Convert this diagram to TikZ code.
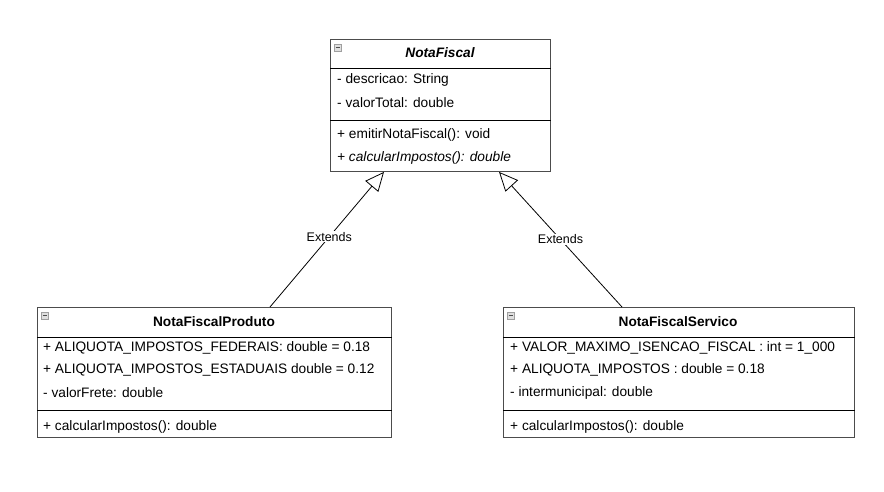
\documentclass[tikz,border=0pt]{standalone}
\usepackage{fontspec}
\setmainfont{Liberation Sans}
\usetikzlibrary{arrows.meta,calc}
\begin{document}
\begin{tikzpicture}[x=1pt,y=1pt,
  classbox/.style={draw=black!70, line width=0.9pt, rectangle, inner sep=0, anchor=north west},
  divider/.style={draw=black, line width=0.8pt},
  member/.style={anchor=west, inner sep=0, font=\fontsize{13.7}{16}\selectfont},
  title/.style={inner sep=0, font=\fontsize{13.7}{16}\selectfont\bfseries},
  extends/.style={draw=black, line width=0.8pt, -{Triangle[open,length=19pt,width=17pt]}},
  elabel/.style={fill=white, inner sep=1pt, font=\fontsize{12.5}{15}\selectfont},
  collapse/.pic={
    \draw[fill=gray!25, draw=gray!75, line width=0.6pt] (0,0) rectangle (7,-7);
    \draw[gray!60!black, line width=0.8pt] (1.5,-3.5) -- (5.5,-3.5);
  }]
\useasboundingbox (0,0) rectangle (884,491);
\fill[white] (0,0) rectangle (884,491);

% NotaFiscal
\node[classbox, minimum width=220pt, minimum height=132pt] (nf) at (330,452) {};
\pic at ($(nf.north west)+(4,-5)$) {collapse};
\node[title, font=\fontsize{13.7}{16}\selectfont\bfseries\itshape] (nft) at (440,438) {NotaFiscal};
\draw[divider] ($(nf.north west)+(0,-29)$) coordinate (nfh1) -- (nfh1 -| nf.east);
\draw[divider] ($(nf.north west)+(0,-81)$) coordinate (nfh2) -- (nfh2 -| nf.east);
\node[member] (nf1) at (337,411) {- descricao: String};
\node[member] (nf2) at (337,388) {- valorTotal: double};
\node[member] (nf3) at (337,356) {+ emitirNotaFiscal(): void};
\node[member, font=\fontsize{13.7}{16}\selectfont\itshape] (nf4) at (337,333) {+ calcularImpostos(): double};

% NotaFiscalProduto
\node[classbox, minimum width=354pt, minimum height=130pt] (nfp) at (37,184) {};
\pic at ($(nfp.north west)+(4,-5)$) {collapse};
\node[title] (nfpt) at (214,169) {NotaFiscalProduto};
\draw[divider] ($(nfp.north west)+(0,-30)$) coordinate (nfph1) -- (nfph1 -| nfp.east);
\draw[divider] ($(nfp.north west)+(0,-103)$) coordinate (nfph2) -- (nfph2 -| nfp.east);
\node[member] (nfp1) at (43,143) {+ ALIQUOTA\_IMPOSTOS\_FEDERAIS: double = 0.18};
\node[member] (nfp2) at (43,121) {+ ALIQUOTA\_IMPOSTOS\_ESTADUAIS double = 0.12};
\node[member] (nfp3) at (43,98) {- valorFrete: double};
\node[member] (nfp4) at (43,64) {+ calcularImpostos(): double};

% NotaFiscalServico
\node[classbox, minimum width=351pt, minimum height=130pt] (nfs) at (503,184) {};
\pic at ($(nfs.north west)+(4,-5)$) {collapse};
\node[title] (nfst) at (678,169) {NotaFiscalServico};
\draw[divider] ($(nfs.north west)+(0,-30)$) coordinate (nfsh1) -- (nfsh1 -| nfs.east);
\draw[divider] ($(nfs.north west)+(0,-103)$) coordinate (nfsh2) -- (nfsh2 -| nfs.east);
\node[member] (nfs1) at (510,143) {+ VALOR\_MAXIMO\_ISENCAO\_FISCAL : int = 1\_000};
\node[member] (nfs2) at (510,121) {+ ALIQUOTA\_IMPOSTOS : double = 0.18};
\node[member] (nfs3) at (510,98) {- intermunicipal: double};
\node[member] (nfs4) at (510,64) {+ calcularImpostos(): double};

% Generalizations
\coordinate (pstart) at (nfp.north west -| 270,0);
\coordinate (pend) at (nf.south west -| 384,0);
\coordinate (sstart) at (nfs.north west -| 622,0);
\coordinate (send) at (nf.south west -| 499,0);
\draw[extends] (pstart) -- node[elabel, pos=0.52] (lbl1) {Extends} (pend);
\draw[extends] (sstart) -- node[elabel, pos=0.5] (lbl2) {Extends} (send);
\end{tikzpicture}
\end{document}
